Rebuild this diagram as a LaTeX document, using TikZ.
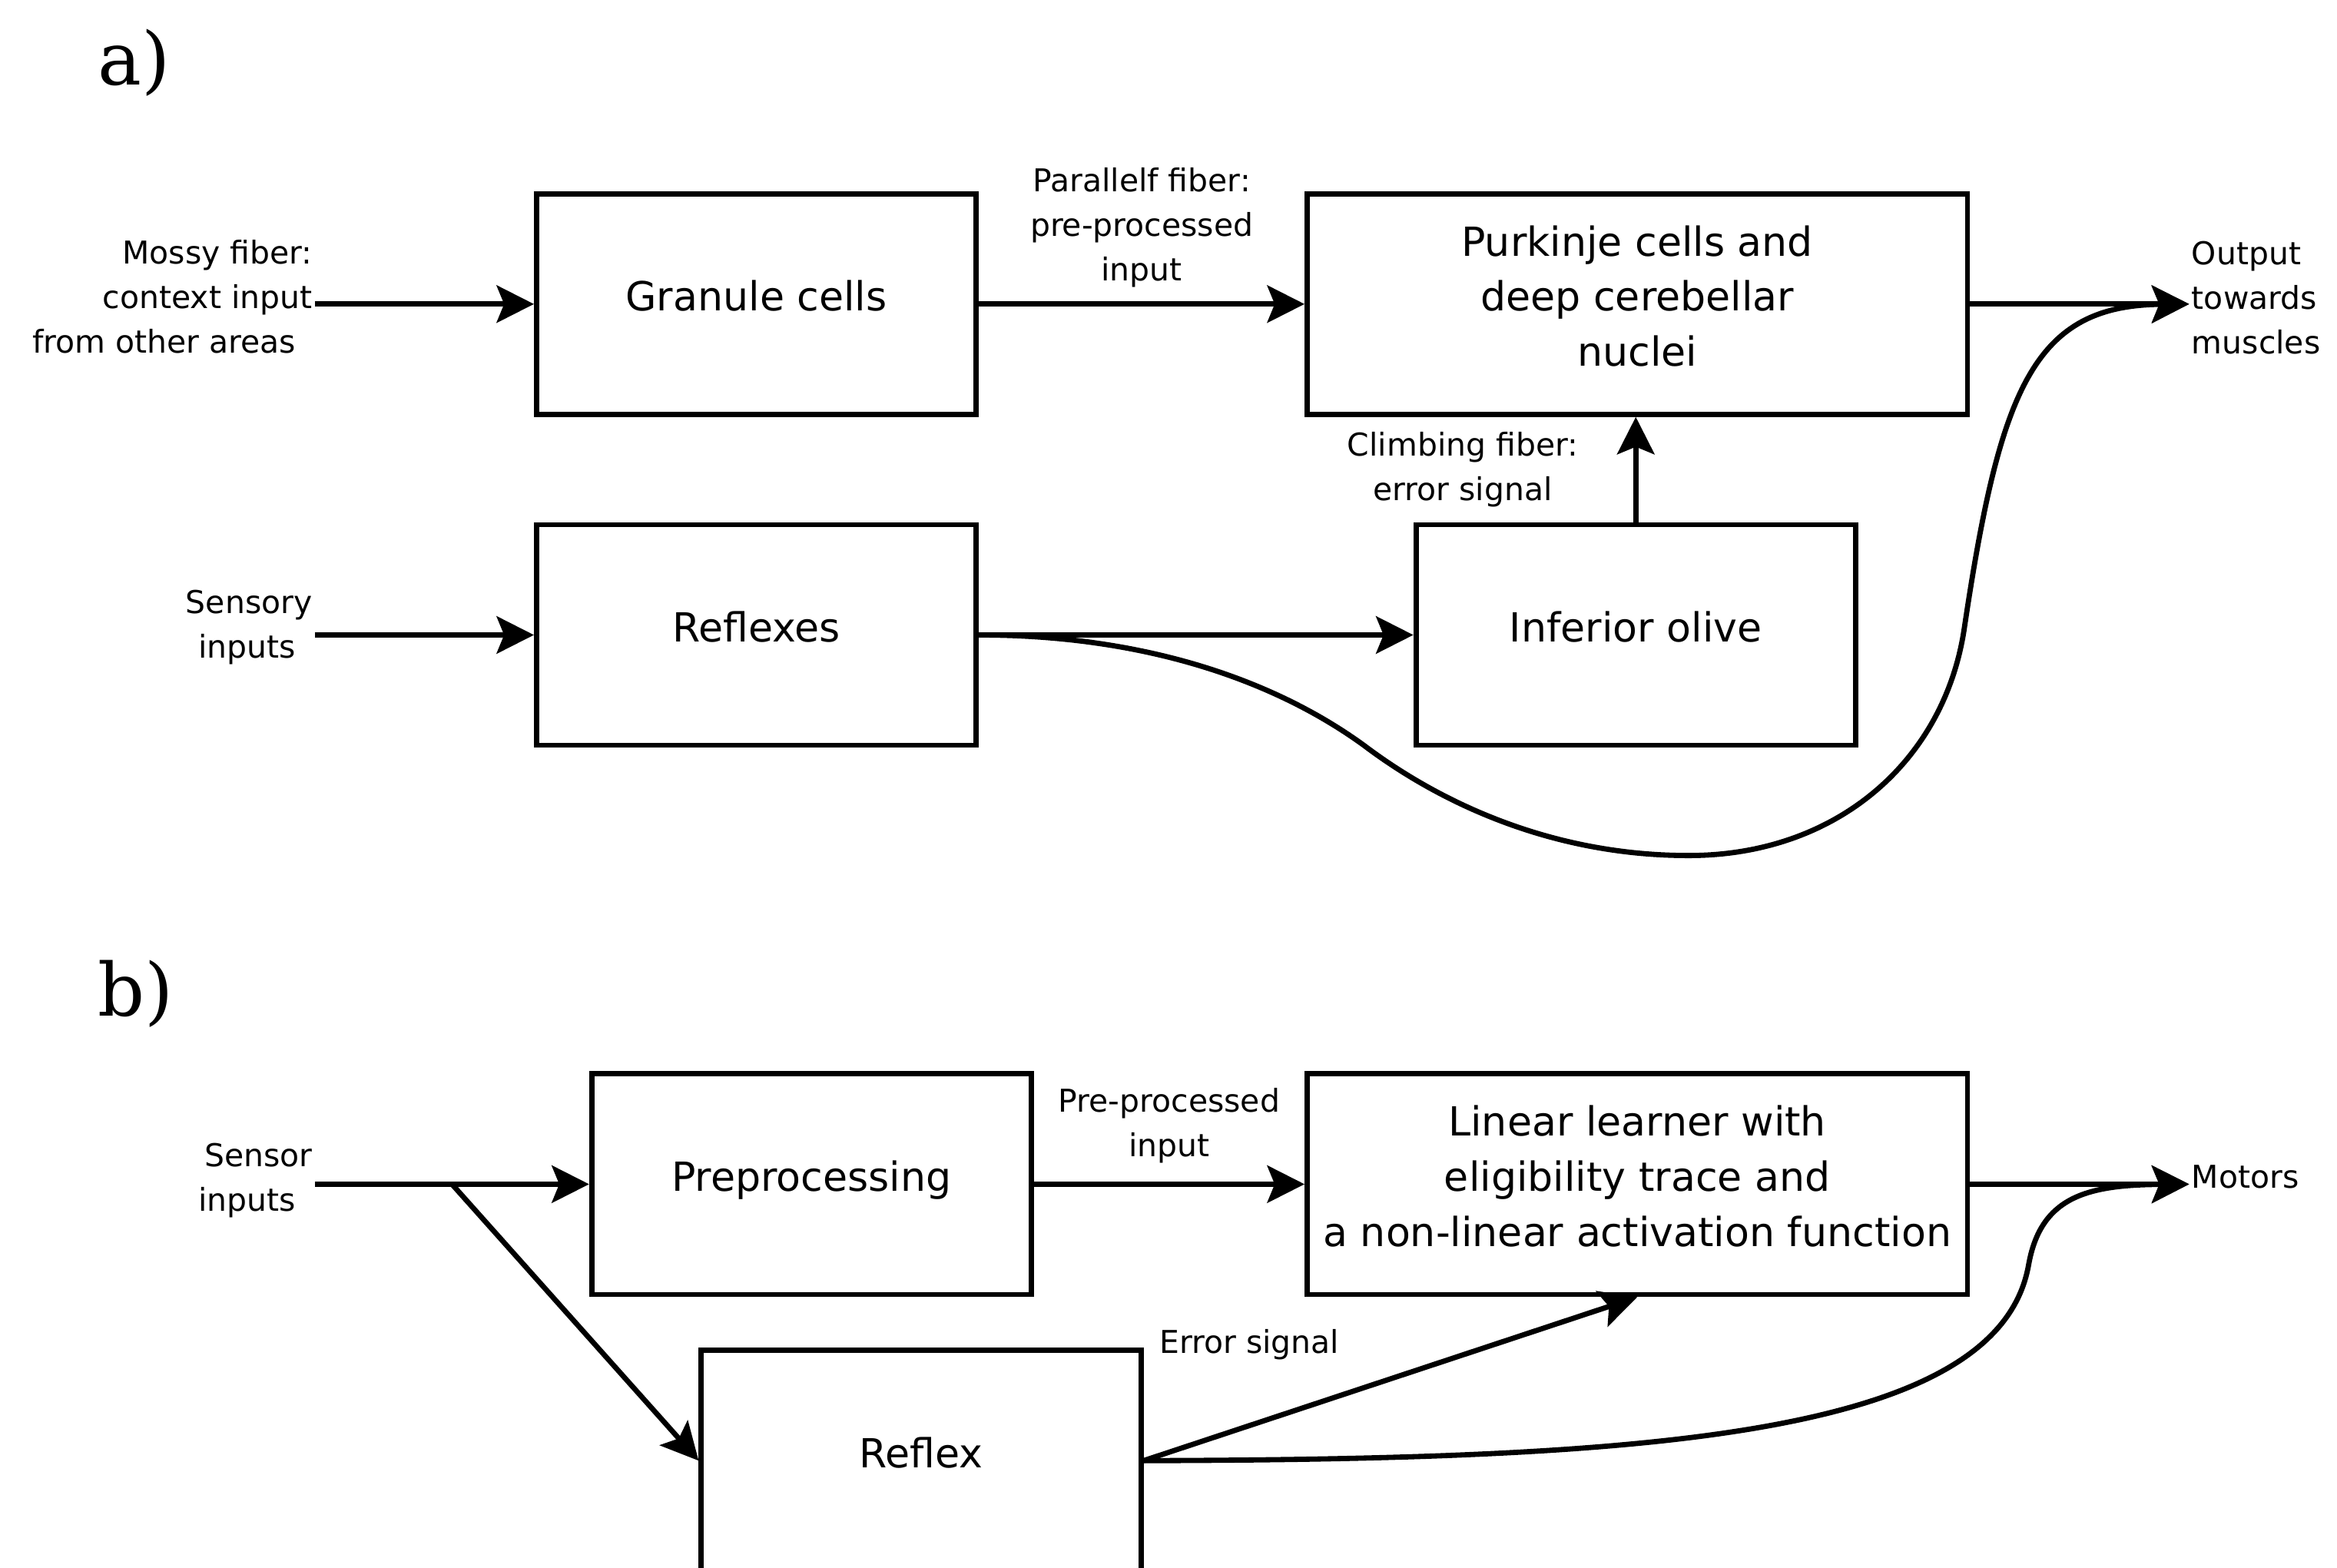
\documentclass[tikz,border=0pt]{standalone}
\usepackage{fontspec}
\setmainfont{DejaVu Sans}
\newfontfamily\panelfont{DejaVu Serif}
\usetikzlibrary{positioning,arrows.meta}

\begin{document}
\begin{tikzpicture}[%
    >={Stealth[length=5mm,width=5mm,inset=1mm]}, % big swept arrow heads
    line width=2pt,                               % same weight for boxes and wires
    node distance=1.41cm and 4.37cm,
    ]
\tikzset{
  base/.style={draw, rectangle, align=center, minimum height=2.96cm,
    text depth=0.22cm, font=\fontsize{15.3}{21}\selectfont},
  box/.style={base, minimum width=5.9cm},
  wide/.style={base, minimum width=8.86cm},
  lbl/.style={inner sep=0pt, align=center, font=\fontsize{12}{17}\selectfont},
  panel/.style={inner sep=0pt, font=\panelfont\fontsize{28}{34}\selectfont},
}
\useasboundingbox (0,0) rectangle (31.36,-21.04);

% a) cerebellum
\node [panel] (pa) at (1.8,-0.84) {a)};
\node [box] (gran) at (10.15,-4.08) {Granule cells};
\node [wide,right=of gran] (purk) {Purkinje cells and\\deep cerebellar\\nuclei};
\node [box,below=of gran] (refl) {Reflexes};
\node [box,right=5.83cm of refl] (olive) {Inferior olive};

\coordinate (mossy) at ([xshift=-2.94cm]gran.west);
\coordinate (sens) at ([xshift=-2.94cm]refl.west);
\coordinate (outa) at ([xshift=2.94cm]purk.east);

\node [lbl,anchor=east,align=right] (mossylbl) at ([yshift=0.1cm]mossy) {Mossy fiber:\\context input\\from other areas\hspace*{0.22cm}};
\node [lbl,anchor=east,align=right] (senslbl) at ([yshift=0.1cm]sens) {Sensory\\inputs\hspace*{0.22cm}};
\node [lbl,anchor=west,align=left] (outlbl) at ([yshift=0.08cm]outa) {Output\\towards\\muscles};

%connect
\draw [->] (mossy) -- (gran.west);
\draw [->] (sens) -- (refl.west);
\draw [->] (gran.east) -- node [lbl,above=0.19cm] (parlbl) {Parallelf fiber:\\pre-processed\\input} (purk.west);
\draw [->] (olive.north) -- node [lbl,left=0.74cm] (climblbl) {Climbing fiber:\\error signal} (olive.north |- purk.south);
\draw [->] (refl.east) -- (olive.west);
\draw [->] (purk.east) -- (outa);
\draw [->] (refl.east) .. controls (15.3,-8.52) and (17.06,-9.1) .. (18.3,-10.0)
  .. controls (19.36,-10.8) and (20.86,-11.48) .. (22.66,-11.48)
  .. controls (24.66,-11.48) and (26.1,-10.2) .. (26.36,-8.42)
  .. controls (26.84,-5.2) and (27.3,-4.1) .. (outa);

% b) model
\node [panel] (pb) at (1.82,-13.34) {b)};
\node [box] (prep) at (10.89,-15.89) {Preprocessing};
\node [wide,right=3.63cm of prep] (lin) {Linear learner with\\eligibility trace and\\a non-linear activation function};
\node [box] (rfx) at (12.36,-19.6) {Reflex};

\coordinate (sensb) at ([xshift=-3.68cm]prep.west);
\coordinate (split) at ([xshift=1.84cm]sensb);
\coordinate (outb) at ([xshift=2.94cm]lin.east);

\node [lbl,anchor=east,align=right] (sensblbl) at ([yshift=0.05cm]sensb) {Sensor\\inputs\hspace*{0.22cm}};
\node [lbl,anchor=west] (motlbl) at ([yshift=0.1cm]outb) {Motors};
\node [lbl,anchor=west] (errlbl) at ([xshift=0.18cm,yshift=0.04cm]rfx.north east) {Error signal};

%connect
\draw [->] (sensb) -- (prep.west);
\draw [->] (split) -- (rfx.west);
\draw [->] (prep.east) -- node [lbl,above=0.25cm] (prelbl) {Pre-processed\\input} (lin.west);
\draw [->] (lin.east) -- (outb);
\draw [->] (rfx.east) -- (lin.south);
\draw [->] (rfx.east) .. controls (22.0,-19.58) and (26.8,-19.3) .. (27.22,-16.98)
  .. controls (27.38,-16.06) and (28.0,-15.9) .. (outb);

\end{tikzpicture}
\end{document}
